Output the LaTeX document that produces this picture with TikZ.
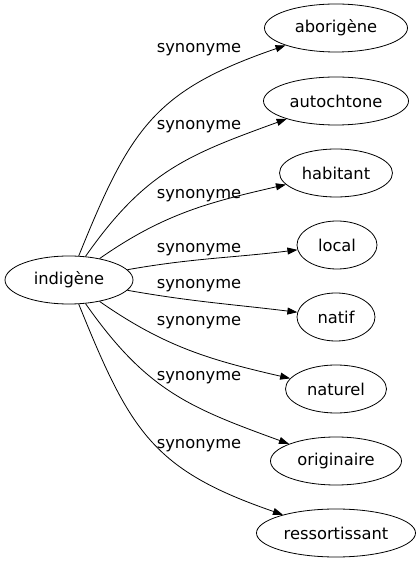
\documentclass[tikz,border=0pt]{standalone}
\usepackage{fontspec}
\setmainfont{DejaVu Sans}
\usetikzlibrary{shapes.geometric,arrows.meta}
\tikzset{>={Triangle[length=10pt,width=7pt]}}
\tikzset{mot/.style={draw,ellipse,inner sep=2pt,minimum height=48pt,minimum width=#1,font=\fontsize{16.3}{19}\selectfont},
         syn/.style={inner sep=0pt,font=\fontsize{16.3}{19}\selectfont}}

\begin{document}
\begin{tikzpicture}[x=1pt,y=1pt,line width=0.8pt]
                \useasboundingbox (0,0) rectangle (420,563);
                \node[mot=128pt] (indigene) at (69,283) {indigène};
                \node[mot=143pt] (aborigene) at (336,535) {aborigène};
                \node[mot=145pt] (autochtone) at (336,462) {autochtone};
                \node[mot=113pt] (habitant) at (336,390) {habitant};
                \node[mot=80pt] (local) at (337,318) {local};
                \node[mot=78pt] (natif) at (336,246) {natif};
                \node[mot=101pt] (naturel) at (336,174) {naturel};
                \node[mot=131pt] (originaire) at (336,102) {originaire};
                \node[mot=159pt] (ressortissant) at (336,30) {ressortissant};
                \node[syn] (s1) at (199,513) {synonyme};
                \node[syn] (s2) at (199,436) {synonyme};
                \node[syn] (s3) at (199,367) {synonyme};
                \node[syn] (s4) at (199,313) {synonyme};
                \node[syn] (s5) at (199,277) {synonyme};
                \node[syn] (s6) at (199,240) {synonyme};
                \node[syn] (s7) at (199,185) {synonyme};
                \node[syn] (s8) at (199,117) {synonyme};
                \draw[->] (indigene) to[out=68,in=199,looseness=1.2] (aborigene);
                \draw[->] (indigene) to[out=55,in=200,looseness=1.1] (autochtone);
                \draw[->] (indigene) to[out=35,in=193] (habitant);
                \draw[->] (indigene) to[out=10,in=187] (local);
                \draw[->] (indigene) to[out=-10,in=173] (natif);
                \draw[->] (indigene) to[out=-35,in=167] (naturel);
                \draw[->] (indigene) to[out=-55,in=160,looseness=1.1] (originaire);
                \draw[->] (indigene) to[out=-68,in=161,looseness=1.2] (ressortissant);
\end{tikzpicture}
\end{document}
